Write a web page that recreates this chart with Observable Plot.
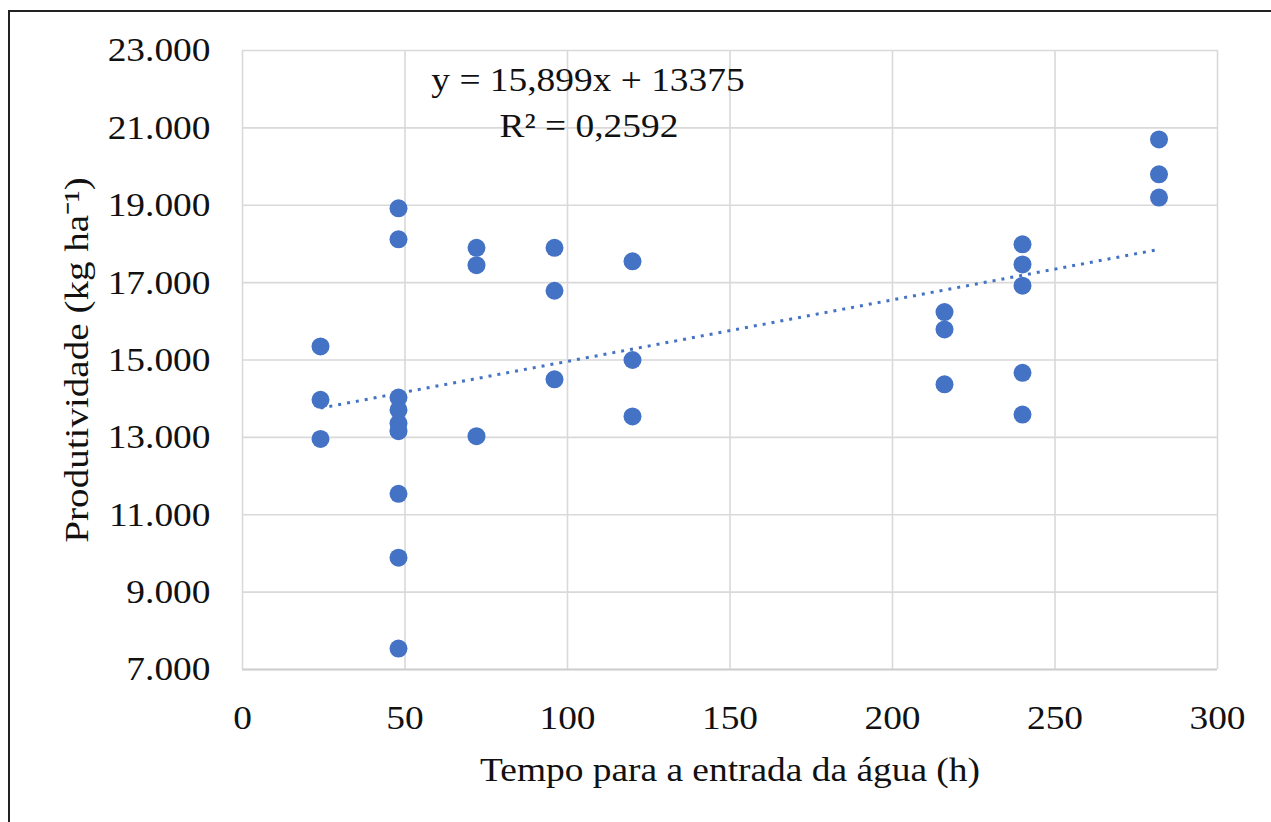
<!DOCTYPE html>
<html>
<head>
<meta charset="utf-8">
<script src="https://cdn.jsdelivr.net/npm/d3@7"></script>
<script src="https://cdn.jsdelivr.net/npm/@observablehq/plot@0.6"></script>
<style>
  html, body { margin: 0; padding: 0; background: #fff; }
  #wrap { position: relative; width: 1271px; height: 822px; overflow: hidden; }
  #frame { position: absolute; left: 8px; top: 10px; width: 1300px; height: 900px; border-left: 2px solid #222; border-top: 2px solid #222; box-sizing: border-box; }
  #chart { position: absolute; left: 0; top: 0; }
</style>
</head>
<body>
<div id="wrap"><div id="frame"></div><div id="chart"></div></div>
<script>
// Data
const tempo = [24, 24, 24,
  48, 48, 48, 48, 48, 48, 48, 48, 48,
  72, 72, 72,
  96, 96, 96,
  120, 120, 120,
  216, 216, 216,
  240, 240, 240, 240, 240,
  282, 282, 282];
const produtividade = [15350, 13970, 12960,
  18920, 18120, 14030, 13710, 13360, 13160, 11540, 9890, 7540,
  17900, 17450, 13030,
  17900, 16790, 14500,
  17550, 15000, 13540,
  16240, 15790, 14370,
  17990, 17470, 16920, 14670, 13590,
  20700, 19800, 19200];
const xTicks = [0, 50, 100, 150, 200, 250, 300];
const yTicks = [7000, 9000, 11000, 13000, 15000, 17000, 19000, 21000, 23000];
const slope = 15.899;
const intercept = 13375;
const eqLabel = "y = 15,899x + 13375";
const r2Label = "R² = 0,2592";
const xLabel = "Tempo para a entrada da água (h)";
const yLabel = "Produtividade (kg ha⁻¹)";

const points = tempo.map((t, i) => ({t, p: produtividade[i]}));
const trend = d3.extent(tempo).map(t => ({t, p: slope * t + intercept}));

const ptFmt = d3.formatLocale({decimal: ",", thousands: ".", grouping: [3], currency: ["", ""]}).format(",");
const blue = "#4472C4";
const gridColor = "#d9d9d9";

const plot = Plot.plot({
  width: 1271,
  height: 822,
  marginLeft: 242,
  marginRight: 54,
  marginTop: 50,
  marginBottom: 153,
  x: {domain: [0, 300]},
  y: {domain: [7000, 23000]},
  style: {fontFamily: "'Liberation Serif', 'Times New Roman', serif", fontSize: "34px", color: "#111", background: "transparent", overflow: "visible"},
  marks: [
    Plot.gridX(xTicks, {stroke: gridColor, strokeOpacity: 1, strokeWidth: 1.6}),
    Plot.gridY(yTicks, {stroke: gridColor, strokeOpacity: 1, strokeWidth: 1.6}),
    Plot.ruleY([yTicks[0]], {stroke: "#cfcfcf", strokeWidth: 2.2}),
    Plot.axisX(xTicks, {tickSize: 0, tickPadding: 35, label: null, fill: "#111"}),
    Plot.axisY(yTicks, {tickSize: 0, tickPadding: 32, label: null, tickFormat: ptFmt, fill: "#111"}),
    Plot.line(trend, {x: "t", y: "p", stroke: blue, strokeWidth: 3, strokeDasharray: "3 6", strokeLinecap: "butt"}),
    Plot.dot(points, {x: "t", y: "p", r: 9, fill: blue, stroke: "none"}),
    Plot.text([eqLabel], {frameAnchor: "top", dx: -142, dy: 30, lineAnchor: "middle", fill: "#111", text: d => d}),
    Plot.text([r2Label], {frameAnchor: "top", dx: -141, dy: 76, lineAnchor: "middle", fill: "#111", text: d => d}),
    Plot.text([xLabel], {frameAnchor: "bottom", dy: 101, lineAnchor: "middle", fill: "#111", text: d => d}),
    Plot.text([yLabel], {frameAnchor: "left", dx: -165, rotate: -90, textAnchor: "middle", lineAnchor: "middle", fill: "#111", text: d => d})
  ]
});
document.getElementById("chart").appendChild(plot);

// The reference's serif text is slightly stretched horizontally; mimic that
plot.querySelectorAll("text").forEach(t => {
  const tr = t.getAttribute("transform");
  if (tr) {
    t.setAttribute("transform", tr + (tr.includes("rotate") ? " scale(1.15,1)" : " scale(1.1,1)"));
  } else {
    const x = +t.getAttribute("x") || 0, y = +t.getAttribute("y") || 0;
    t.setAttribute("transform", `translate(${x},${y}) scale(1.1,1) translate(${-x},${-y})`);
  }
});
</script>
</body>
</html>
